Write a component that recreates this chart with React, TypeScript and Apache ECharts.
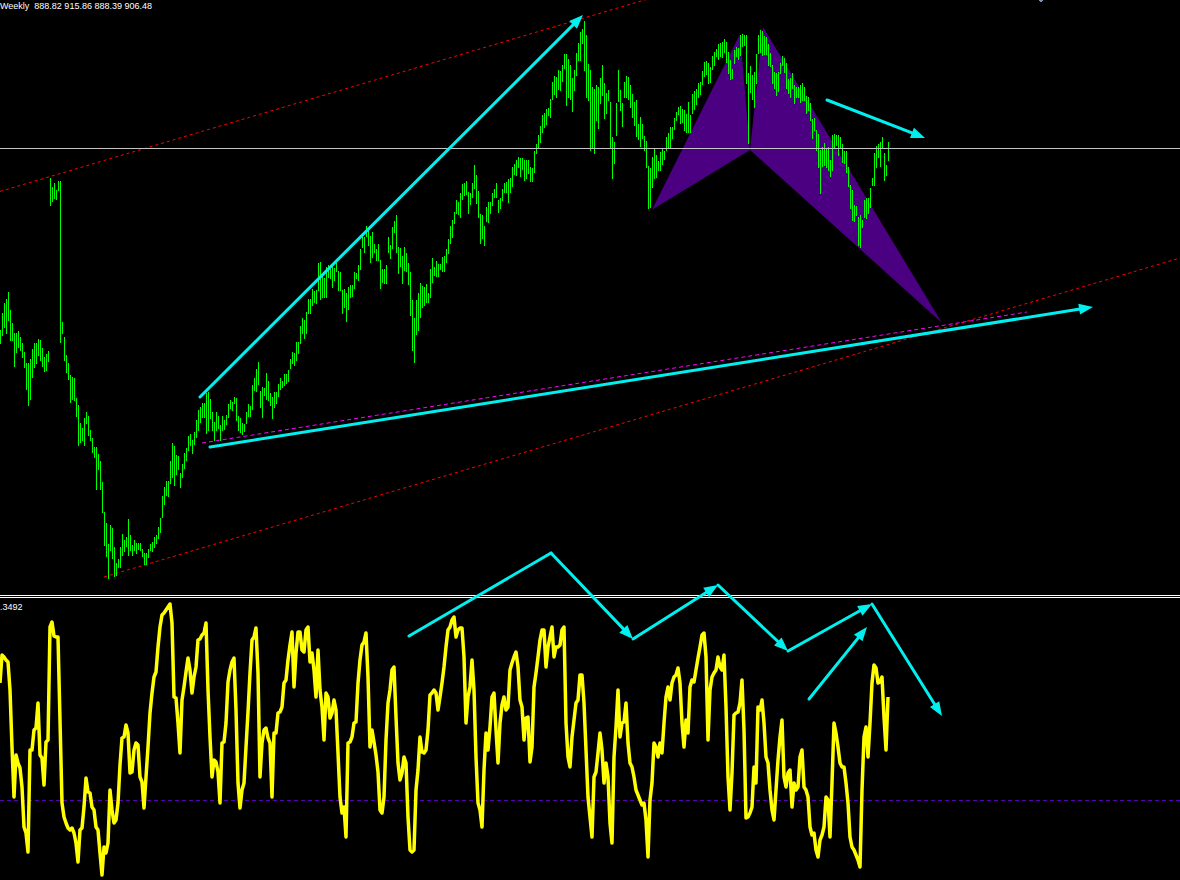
import React, { useEffect, useRef } from 'react';
import * as echarts from 'echarts';

// Weekly bars (one bar every index), hidden price axis
const highs = [
633.5,659,674,680,690.5,663.5,644,629,629,632,
623,614,600.5,584,584,590,605,614,614,620,
618.5,606.5,593,597.5,602,861.5,848,854,843.5,857,
857,645.5,623,596,584,566,563,561.5,531.5,521,
494,486.5,501.5,510.5,504.5,483.5,471.5,458,458,447.5,
437,405.5,360.5,344,312.5,341,336.5,308,284,290,
308,327.5,318.5,323,350,326,311,318.5,314,314,
314,305,299,299,305,312.5,315.5,323,326,338,
351.5,384.5,398,407,407,437,464,459.5,446,444.5,
419,432.5,449,456.5,474.5,477.5,468.5,480.5,498.5,513.5,
518,524,524,539,540.5,530,510.5,495.5,510.5,504.5,
491,504.5,498.5,506,522.5,528.5,525.5,533,531.5,504.5,
501.5,494,492.5,510.5,522.5,519.5,551,561.5,575,585.5,
542,548,546.5,569,557,539,533,540.5,540.5,552.5,
561.5,557,567.5,567.5,573.5,590,600.5,599,615.5,615.5,
639.5,651.5,648.5,660.5,680,680,695,692,693.5,734,
735.5,716,711.5,728,731,725,729.5,726.5,734,722,
720.5,693.5,695,689,698,701,701,720.5,719,731,
755,779,773,789.5,782,774.5,780.5,762.5,755,762.5,
738.5,725,725,731,773,761,788,797,806,758,
756.5,744.5,758,749,734,720.5,678.5,651.5,678.5,689,
704,699.5,698,702.5,689,725,741.5,728,737,732.5,
732.5,743,744.5,755,770,789.5,798.5,810.5,828.5,825.5,
839,852.5,854,857,840.5,839,854,881,866,842,
807.5,806,789.5,818,825.5,825.5,839,845,854,828.5,
831.5,845,854,855.5,860,861.5,878,882.5,888.5,893,
891.5,891.5,888.5,888.5,888.5,878,876.5,902,912.5,926,
939.5,956,959,965,966.5,980,1005.5,1014.5,1013,1023.5,
1022,1031,1047.5,1047.5,1040,1031,1011.5,1023.5,1049,1064,
1080.5,1085,1097,1076,1032.5,1023.5,998,995,1001,998,
1011.5,1031,1004,989,993.5,975.5,923,915.5,974,1023.5,
993.5,974,1005.5,1014.5,1013,1001,987.5,975.5,978.5,942.5,
953,942.5,924.5,917,879.5,876.5,893,905,896,887,
900.5,906.5,902,923,929,938,938,951.5,960.5,968,
969.5,965,963.5,957.5,975.5,956,987.5,992,995,1004,
1005.5,1022,1035.5,1037,1034,1028,1044.5,1050.5,1055,1062.5,
1064,1065.5,1070,1065.5,1050.5,1038.5,1025,1053.5,1058,1056.5,
1076,1077.5,1076,1076,1019,1029.5,1016,1020.5,1047.5,1076,
1083.5,1082,1074.5,1073,1062.5,1049,1031,1020.5,1019,1020.5,
1034,1044.5,1041.5,1034,1010,1011.5,1019,1001,998,998,
1001,1004,998,984.5,983,974,950,951.5,933.5,927.5,
903.5,908,914,906.5,908,888.5,926,927.5,926,926,
923,912.5,902,902,878,851,843.5,821,819.5,803,
806,798.5,828.5,831.5,831.5,846.5,861.5,899,909.5,912.5,
915.5,923,899,881,915.86
];

const lows = [
614,626,638,629,648.5,618.5,618.5,579.5,600.5,608,
603.5,593,578,545,521,530,563,578,584,596,
588.5,579.5,572,573.5,587,821,827,831.5,830,843.5,
615.5,629,588.5,570.5,560,525.5,530,528.5,504.5,461,
465.5,468.5,461,494,476,468.5,450.5,443,395,425,
395,360.5,311,294.5,261.5,303.5,291.5,264.5,266,278,
278,296,302,309.5,296,303.5,296,303.5,299,305,
303.5,294.5,282.5,282.5,293,303.5,302,308,314,321.5,
330.5,353,372.5,386,384.5,404,413,401,417.5,425,
398,413,426.5,438.5,453.5,461,449,462.5,473,483.5,
495.5,503,503,479,483.5,501.5,483.5,468.5,483.5,486.5,
468.5,483.5,485,492.5,503,516.5,513.5,524,498.5,483.5,
480.5,477.5,482,494,504.5,504.5,515,543.5,542,552.5,
518,503,536,530,528.5,521,501.5,518,524,534.5,
545,548,551,554,557,576.5,584,581,588.5,599,
614,629,621.5,629,659,659,671,675.5,674,693.5,
680,683,683,683,713,711.5,698,708.5,722,693.5,
693.5,659,668,647,665,683,684.5,696.5,711.5,708.5,
725,758,750.5,774.5,761,735.5,743,750.5,738.5,738.5,
696.5,705.5,704,704,750.5,741.5,756.5,780.5,750.5,719,
729.5,704,723.5,722,702.5,656,603.5,585.5,627.5,633.5,
653,668,671,675.5,675.5,683,705.5,716,714.5,714.5,
725,722,722,735.5,749,764,773,794,809,807.5,
803,830,836,837.5,809,822.5,833,846.5,824,803,
764,771.5,761,797,795.5,809,821,833,833,810.5,
816.5,828.5,840.5,840.5,825.5,840.5,849.5,867.5,866,878,
864.5,875,858.5,861.5,869,857,857,870.5,899,908,
915.5,930.5,938,942.5,956,953,980,987.5,983,995,
993.5,1007,1026.5,971,983,980,962,993.5,1016,1038.5,
1038.5,1064,1023.5,983,978.5,903.5,908,899,948.5,936.5,
974,986,951.5,959,978.5,908,861.5,884,926,977,
963.5,939.5,983,983,980,968,953,941,924.5,920,
909.5,921.5,903.5,878,816.5,818,848,861.5,863,873.5,
873.5,882.5,890,903.5,906.5,908,921.5,935,948.5,957.5,
944,945.5,933.5,930.5,930.5,930.5,959,965,972.5,983,
987.5,1002.5,1014.5,1017.5,1004,1005.5,1025,1031,1044.5,1040,
1044.5,1043,1050.5,1035.5,1019,1010,1011.5,1034,1044.5,1040,
1046,1059.5,1061,1004,914,990.5,980,968,1004,1049,
1050.5,1046,1047.5,1047.5,1031,1029.5,1004,996.5,986,992,
1019,1031,1020.5,996.5,989,983,996.5,974,983,983,
975.5,978.5,978.5,959,963.5,948.5,921.5,933.5,903.5,878,
839,879.5,881,878,873.5,864.5,873.5,908,911,896,
908,885.5,884,870.5,849.5,816.5,798.5,797,806,761,
758,788,803,801.5,809,818,851,851,878,893,
879.5,908,858.5,866,888.39
];

// Oscillator values (one per bar)
const osc = [
1.17,1.45,1.43,1.40,1.38,1.10,0.53,0.03,0.45,0.37,
0.32,0.13,-0.27,-0.33,-0.52,0.50,0.50,0.70,0.72,0.97,
0.45,0.42,0.15,0.58,0.60,1.73,1.78,1.64,1.63,1.63,
0.80,-0.03,-0.17,-0.23,-0.28,-0.30,-0.28,-0.33,-0.43,-0.62,
-0.30,-0.28,-0.07,0.22,0.08,0.07,-0.07,-0.10,-0.27,-0.30,
-0.53,-0.75,-0.47,-0.53,-0.43,0.10,-0.10,-0.23,-0.20,-0.03,
0.35,0.62,0.63,0.75,0.67,0.27,0.28,0.50,0.57,0.55,
0.23,0.18,-0.08,0.23,0.53,0.87,1.07,1.23,1.28,1.53,
1.73,1.85,1.87,1.90,1.93,1.96,1.77,1.03,1.02,0.77,
0.47,1.00,1.13,1.28,1.42,1.30,1.07,1.23,1.33,1.60,
1.61,1.65,1.67,1.77,1.10,0.63,0.23,0.40,0.38,0.28,
-0.03,0.57,0.58,0.77,1.18,1.30,1.38,1.42,0.90,0.17,
-0.08,0.10,0.17,0.53,0.88,1.27,1.60,1.63,1.72,1.27,
0.23,0.57,0.70,0.72,0.62,0.57,0.03,0.67,0.67,0.87,
0.88,0.93,1.17,1.20,1.40,1.55,1.68,1.13,1.47,1.68,
1.68,1.50,1.48,1.70,1.73,1.38,1.47,1.30,1.03,1.50,
1.10,0.93,0.60,1.07,1.03,0.82,0.87,1.00,0.90,0.47,
0.03,-0.13,-0.07,-0.37,0.57,0.58,0.63,0.77,0.78,1.17,
1.40,1.55,1.58,1.67,1.23,0.53,0.70,0.58,0.45,0.28,
-0.10,-0.13,0.03,0.60,0.97,1.10,1.30,1.33,0.83,0.37,
0.20,0.27,0.43,0.37,-0.17,-0.50,-0.52,-0.50,0.10,0.30,
0.63,0.48,0.47,0.50,0.70,1.05,1.07,1.10,1.07,0.90,
1.03,1.17,1.33,1.53,1.70,1.73,1.80,1.83,1.63,1.70,
1.72,1.72,1.43,0.77,1.03,1.13,1.40,1.10,0.43,-0.03,
-0.10,-0.27,0.30,0.67,0.50,0.73,1.03,1.07,0.70,0.37,
0.77,0.95,1.03,0.90,0.93,1.30,1.37,1.43,1.48,1.33,
1.00,0.93,0.60,0.82,0.83,0.38,0.53,1.13,1.27,1.43,
1.60,1.70,1.70,1.33,1.53,1.63,1.73,1.43,1.53,1.53,
1.55,1.70,1.73,0.77,0.43,0.33,0.63,0.80,0.97,1.00,
1.25,1.25,0.97,0.50,0.03,-0.17,-0.37,0.23,0.28,0.47,
0.67,0.50,0.17,0.37,0.23,-0.23,-0.43,0.43,0.73,1.10,
0.63,0.77,0.78,0.97,0.57,0.37,0.33,0.23,0.10,0.05,
0.00,-0.05,-0.03,-0.20,-0.57,0.00,0.17,0.57,0.53,0.43,
0.57,0.47,0.77,1.03,1.13,1.00,1.17,1.23,1.25,1.32,
1.17,0.77,0.53,0.80,0.67,1.13,1.20,1.18,1.30,1.42,
1.53,1.65,1.67,1.43,0.60,1.10,1.23,1.27,1.30,1.43,
1.33,1.30,1.45,0.93,0.23,-0.10,0.27,0.85,0.87,0.88,
0.97,1.20,0.70,-0.18,-0.17,-0.13,-0.07,0.33,0.17,0.93,
0.90,1.00,0.77,0.43,0.37,0.10,-0.10,-0.20,0.10,0.40,
0.63,0.80,0.23,0.13,0.27,0.30,-0.07,0.17,0.10,0.13,
0.43,0.50,0.13,0.10,0.03,-0.27,-0.35,-0.33,-0.50,-0.57,
-0.40,-0.35,-0.27,0.03,0.00,-0.37,0.17,0.77,0.67,0.53,
0.37,0.33,0.33,0.17,-0.03,-0.37,-0.47,-0.50,-0.55,-0.60,
-0.67,0.10,0.63,0.73,0.43,0.77,1.17,1.35,1.32,1.17,
1.18,1.23,0.83,0.50,1.03
];

const titleText = 'Weekly  888.82 915.86 888.39 906.48';
const oscLabel = '.3492';
const bidPrice = 906.48;
const oscLevel = 0;

// Drawn objects, in (bar index, price) or (bar index, oscillator value)
const upperChannel = [[0, 841.4], [340, 1144.3]];
const lowerChannel = [[52, 263], [590, 741.5]];
const magentaTrend = [[101, 464], [513.5, 660.5]];
const patternXAB = [[326, 814], [370, 1077.5], [375, 903.5]];
const patternBCD = [[375, 903.5], [381.5, 1088], [471, 644]];
const priceArrows = [
  { from: [100, 533], to: [291.5, 1106], head: true },
  { from: [105, 458], to: [546.5, 668], head: true },
  { from: [413.5, 978.5], to: [462.5, 921.5], head: true },
];
const oscArrows = [
  { from: [204.5, 1.64], to: [275.5, 2.47], head: false },
  { from: [275.5, 2.47], to: [316.5, 1.61], head: true },
  { from: [316.5, 1.61], to: [359, 2.15], head: true },
  { from: [359, 2.15], to: [394, 1.49], head: true },
  { from: [394, 1.49], to: [436, 1.96], head: true },
  { from: [436, 1.96], to: [471, 0.84], head: true },
  { from: [404.5, 1.01], to: [433.5, 1.73], head: true },
];

const W = 1180;
const H = 880;
const CYAN = '#00f0f0';

export default function App() {
  const ref = useRef<HTMLDivElement>(null);
  useEffect(() => {
    if (!ref.current) return;
    const chart = echarts.init(ref.current, null, { renderer: 'svg' });
    const barData = highs.map((h, i) => [i, h, lows[i]]);
    const oscData = osc.map((v, i) => [i, v]);
    const dashed = (data: number[][], color: string, dash: number[]) => ({
      type: 'line',
      data,
      xAxisIndex: 0,
      yAxisIndex: 0,
      symbol: 'none',
      silent: true,
      clip: true,
      lineStyle: { color, width: 1, type: dash },
      z: 1,
    });
    chart.setOption({
      animation: false,
      backgroundColor: '#000000',
      grid: [
        { left: 0, right: 0, top: 0, height: 595 },
        { left: 0, right: 0, top: 598, height: 282 },
      ],
      xAxis: [
        { type: 'value', gridIndex: 0, min: 0, max: 590, show: false },
        { type: 'value', gridIndex: 1, min: 0, max: 590, show: false },
      ],
      yAxis: [
        { type: 'value', gridIndex: 0, min: 236, max: 1128.5, show: false },
        { type: 'value', gridIndex: 1, min: -0.8, max: 2.02, show: false },
      ],
      series: [
        dashed(upperChannel, '#ff0000', [3, 3]),
        dashed(lowerChannel, '#ff0000', [3, 3]),
        dashed(magentaTrend, '#ff00ff', [4, 3]),
        {
          type: 'custom',
          xAxisIndex: 0,
          yAxisIndex: 0,
          data: barData,
          encode: { x: 0, y: [1, 2] },
          z: 3,
          renderItem: (_p: any, api: any) => {
            const i = api.value(0);
            const top = api.coord([i, api.value(1)]);
            const bot = api.coord([i, api.value(2)]);
            const x = Math.round(top[0]);
            const y1 = Math.round(top[1]);
            const y2 = Math.round(bot[1]);
            return {
              type: 'rect',
              shape: { x, y: y1, width: 1, height: Math.max(1, y2 - y1 + 1) },
              style: { fill: '#00ff00' },
            };
          },
        },
        {
          type: 'line',
          xAxisIndex: 1,
          yAxisIndex: 1,
          data: oscData,
          symbol: 'none',
          silent: true,
          lineStyle: { color: '#ffff00', width: 3.5, join: 'round' },
          z: 3,
        },
      ],
    });

    const toPx = (pane: number, p: number[]) =>
      chart.convertToPixel({ gridIndex: pane } as any, p) as number[];

    const arrowEls = (a: number[], b: number[], head: boolean) => {
      const dx = b[0] - a[0];
      const dy = b[1] - a[1];
      const len = Math.hypot(dx, dy) || 1;
      const ux = dx / len;
      const uy = dy / len;
      const L = 14;
      const HW = 5.5;
      const end = head ? [b[0] - ux * L * 0.7, b[1] - uy * L * 0.7] : b;
      const els: any[] = [
        {
          type: 'line',
          shape: { x1: a[0], y1: a[1], x2: end[0], y2: end[1] },
          style: { stroke: CYAN, lineWidth: 3, lineCap: 'round' },
          z: 20,
          silent: true,
        },
      ];
      if (head) {
        const bx = b[0] - ux * L;
        const by = b[1] - uy * L;
        els.push({
          type: 'polygon',
          shape: { points: [[b[0], b[1]], [bx - uy * HW, by + ux * HW], [bx + uy * HW, by - ux * HW]] },
          style: { fill: CYAN },
          z: 20,
          silent: true,
        });
      }
      return els;
    };

    const graphics: any[] = [];
    [patternXAB, patternBCD].forEach((tri) => {
      graphics.push({
        type: 'polygon',
        shape: { points: tri.map((p) => toPx(0, p)) },
        style: { fill: '#4b0082' },
        z: 0,
        silent: true,
      });
    });
    const bidY = Math.round(toPx(0, [0, bidPrice])[1]);
    graphics.push({ type: 'rect', shape: { x: 0, y: bidY, width: W, height: 1 }, style: { fill: '#c4c4c4' }, z: 5, silent: true });
    const lvY = Math.round(toPx(1, [0, oscLevel])[1]) + 0.5;
    graphics.push({
      type: 'line',
      shape: { x1: 0, y1: lvY, x2: W, y2: lvY },
      style: { stroke: '#5a00b4', lineWidth: 1, lineDash: [4, 3] },
      z: 1,
      silent: true,
    });
    graphics.push({ type: 'rect', shape: { x: 0, y: 595, width: W, height: 1 }, style: { fill: '#ffffff' }, z: 6, silent: true });
    graphics.push({ type: 'rect', shape: { x: 0, y: 597, width: W, height: 1 }, style: { fill: '#ffffff' }, z: 6, silent: true });
    priceArrows.forEach((a) => graphics.push(...arrowEls(toPx(0, a.from), toPx(0, a.to), a.head)));
    oscArrows.forEach((a) => graphics.push(...arrowEls(toPx(1, a.from), toPx(1, a.to), a.head)));
    graphics.push({
      type: 'text',
      x: 0,
      y: 1,
      style: { text: titleText, fill: '#ffffff', fontSize: 9, fontFamily: 'Liberation Sans', verticalAlign: 'top', textVerticalAlign: 'top' },
      z: 30,
      silent: true,
    });
    graphics.push({
      type: 'text',
      x: 0,
      y: 602,
      style: { text: oscLabel, fill: '#ffffff', fontSize: 9, fontFamily: 'Liberation Sans', verticalAlign: 'top', textVerticalAlign: 'top' },
      z: 30,
      silent: true,
    });
    graphics.push({ type: 'rect', shape: { x: 1039, y: 0, width: 4, height: 1 }, style: { fill: '#7f93b4' }, z: 30, silent: true });
    graphics.push({ type: 'rect', shape: { x: 1040, y: 1, width: 2, height: 1 }, style: { fill: '#7f93b4' }, z: 30, silent: true });

    chart.setOption({ graphic: graphics });
    return () => chart.dispose();
  }, []);
  return (
    <div
      ref={ref}
      style={{ position: 'fixed', left: 0, top: 0, width: W, height: H, background: '#000' }}
    />
  );
}
